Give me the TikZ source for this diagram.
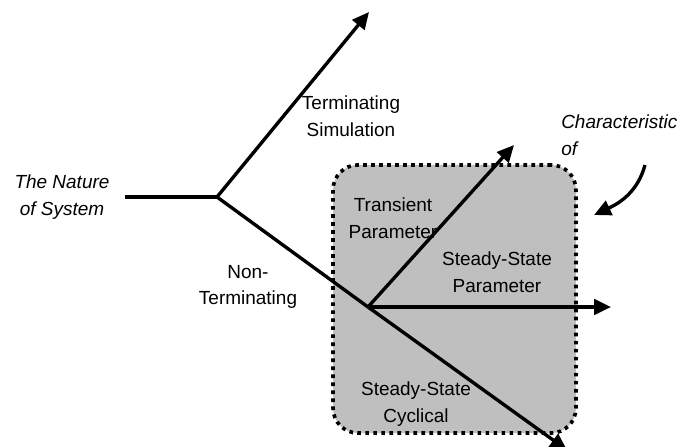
\documentclass[tikz,border=0pt]{standalone}
\usepackage{fontspec}
\setmainfont{Liberation Sans}
\usepackage{tikz}
\usetikzlibrary{arrows.meta}
\usetikzlibrary{positioning}
\tikzset{
    branch/.style = {line width=2.4pt},
    flow/.style = {line width=2.4pt,-{Triangle[length=12pt,width=11pt]}},
    label/.style = {inner sep=0,align=center,font=\fontsize{13.5}{19}\selectfont},
    note/.style = {label,font=\fontsize{13.5}{19}\selectfont\itshape},
    region/.style = {draw,fill=black!25,rounded corners=0.62cm,line width=2.6pt,
        dash pattern=on 2.6pt off 3.1pt,minimum width=6.07cm,minimum height=6.7cm,inner sep=0}
}
\begin{document}
\begin{tikzpicture}[x=0.025cm,y=-0.025cm]
        \useasboundingbox (0,0) rectangle (684,447);
        % Region of interest
        \node[region] (area) at (454.5,299) {};
        % Labels
        \node[note] (nature) at (62,197) {The Nature\\of System};
        \node[label] (term) at (351,116) {Terminating\\Simulation};
        \node[label] (nonterm) at (248,287) {Non-\\Terminating};
        \node[note,align=left,anchor=west] (charac) at (561,135) {Characteristic\\of};
        \node[label] (trans) at (393,218) {Transient\\Parameter};
        \node[label] (ssparam) at (497,272) {Steady-State\\Parameter};
        \node[label] (sscyc) at (416,404) {Steady-State\\Cyclical};
        % Points
        \coordinate (start) at (125,197);
        \coordinate (fork) at (217,197);
        \coordinate (split) at (368,307);
        \coordinate (termend) at (369,12);
        \coordinate (transend) at (514,145);
        \coordinate (ssend) at (611,307);
        \coordinate (cycend) at (567,450);
        \coordinate (charfrom) at (645,165);
        \coordinate (charto) at (594,215);
        % Branches
        \draw[branch] (start) to (fork);
        \draw[branch] (fork) to (split);
        \foreach \src/\dest in {fork/termend,split/transend,split/ssend,split/cycend}
            \draw[flow] (\src) to (\dest);
        \draw[flow] (charfrom) to[out=-105,in=25] (charto);
    \end{tikzpicture}
\end{document}
